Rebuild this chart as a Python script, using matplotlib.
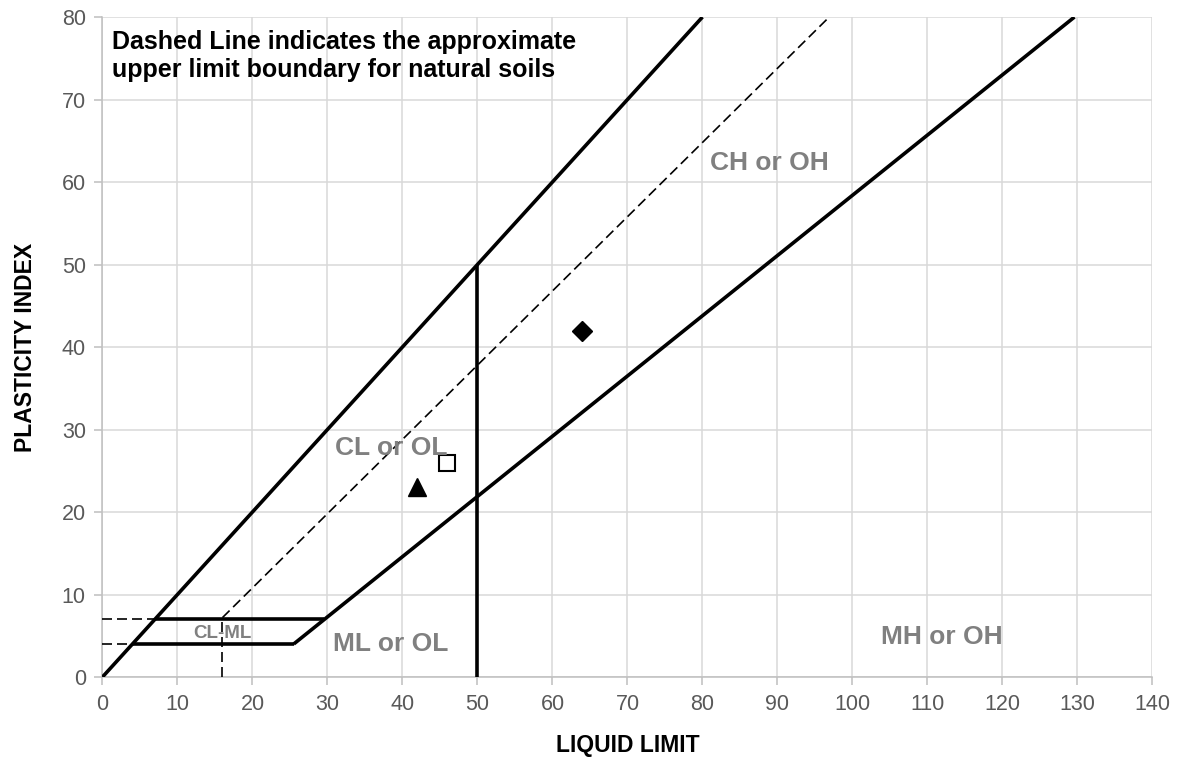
import matplotlib
matplotlib.use("Agg")
import matplotlib.pyplot as plt

plt.rcParams['font.family'] = ['Liberation Sans', 'DejaVu Sans']

# chart boundary lines (liquid limit, plasticity index)
line_ll = [0, 80]                 # PI = LL line
line_pi = [0, 80]
a_line_ll = [25.5, 129.6]         # A-line, PI = 0.73(LL-20)
a_line_pi = [4, 80]
u_line_ll = [16, 96.9]            # U-line, PI = 0.9(LL-8)
u_line_pi = [7.2, 80]
vert_ll = [50, 50]
vert_pi = [0, 50]
top_band_ll = [7, 29.6]
top_band_pi = [7, 7]
low_band_ll = [4, 25.5]
low_band_pi = [4, 4]

# dashed helper lines
dash7_ll = [0, 7]
dash7_pi = [7, 7]
dash4_ll = [0, 4]
dash4_pi = [4, 4]
dash16_ll = [16, 16]
dash16_pi = [0, 7]

# samples
diamond_pt = (64, 42)
square_pt = (46, 26)
triangle_pt = (42, 23)

# zone labels
zones = ["CH or OH", "CL or OL", "ML or OL", "MH or OH"]
zone_x = [88.9, 38.5, 38.4, 111.9]
zone_y = [62.3, 27.7, 4.0, 4.8]

fig = plt.figure(figsize=(11.79, 7.63), dpi=100)
ax = fig.add_axes([0.0869, 0.1127, 0.8906, 0.8650])

solid = dict(color="black", lw=2.6, solid_capstyle="butt", zorder=3)
dashed = dict(color="black", lw=1.2, dashes=(6, 3), zorder=3)

ax.plot(line_ll, line_pi, **solid)
ax.plot(a_line_ll, a_line_pi, **solid)
ax.plot(vert_ll, vert_pi, **solid)
ax.plot(top_band_ll, top_band_pi, **solid)
ax.plot(low_band_ll, low_band_pi, **solid)

ax.plot(u_line_ll, u_line_pi, **dashed)
ax.plot(dash7_ll, dash7_pi, **dashed)
ax.plot(dash4_ll, dash4_pi, **dashed)
ax.plot(dash16_ll, dash16_pi, **dashed)

ax.plot(*diamond_pt, marker="D", ms=10, color="black", ls="none", zorder=4)
ax.plot(*square_pt, marker="s", ms=12, mfc="white", mec="black", mew=1.5,
        ls="none", zorder=4)
ax.plot(*triangle_pt, marker="^", ms=13, color="black", ls="none", zorder=4)

for name, x, y in zip(zones, zone_x, zone_y):
    ax.text(x, y, name, ha="center", va="center", fontsize=19,
            fontweight="bold", color="#808080", zorder=5)
ax.text(16, 5.3, "CL-ML", ha="center", va="center", fontsize=13.5,
        fontweight="bold", color="#808080", zorder=5)

ax.text(0.0095, 0.98, "Dashed Line indicates the approximate\nupper limit boundary for natural soils",
        transform=ax.transAxes, ha="left", va="top", fontsize=18,
        fontweight="bold", color="black", linespacing=1.18)

ax.set_xlim(0, 140)
ax.set_ylim(0, 80)
ax.set_xticks(range(0, 141, 10))
ax.set_yticks(range(0, 81, 10))
ax.grid(True, color="#d9d9d9", lw=1.1, zorder=0)
ax.set_axisbelow(True)
for s in ["top", "right"]:
    ax.spines[s].set_visible(False)
for s in ["left", "bottom"]:
    ax.spines[s].set_color("#bfbfbf")
    ax.spines[s].set_linewidth(1.1)
ax.tick_params(colors="#bfbfbf", labelcolor="#595959", labelsize=15.5,
               length=6, width=1.1, pad=6)

ax.set_xlabel("LIQUID LIMIT", fontsize=16.5, fontweight="bold", labelpad=14)
ax.set_ylabel("PLASTICITY INDEX", fontsize=16.5, fontweight="bold", labelpad=18)

fig.savefig("out.png", dpi=100)
